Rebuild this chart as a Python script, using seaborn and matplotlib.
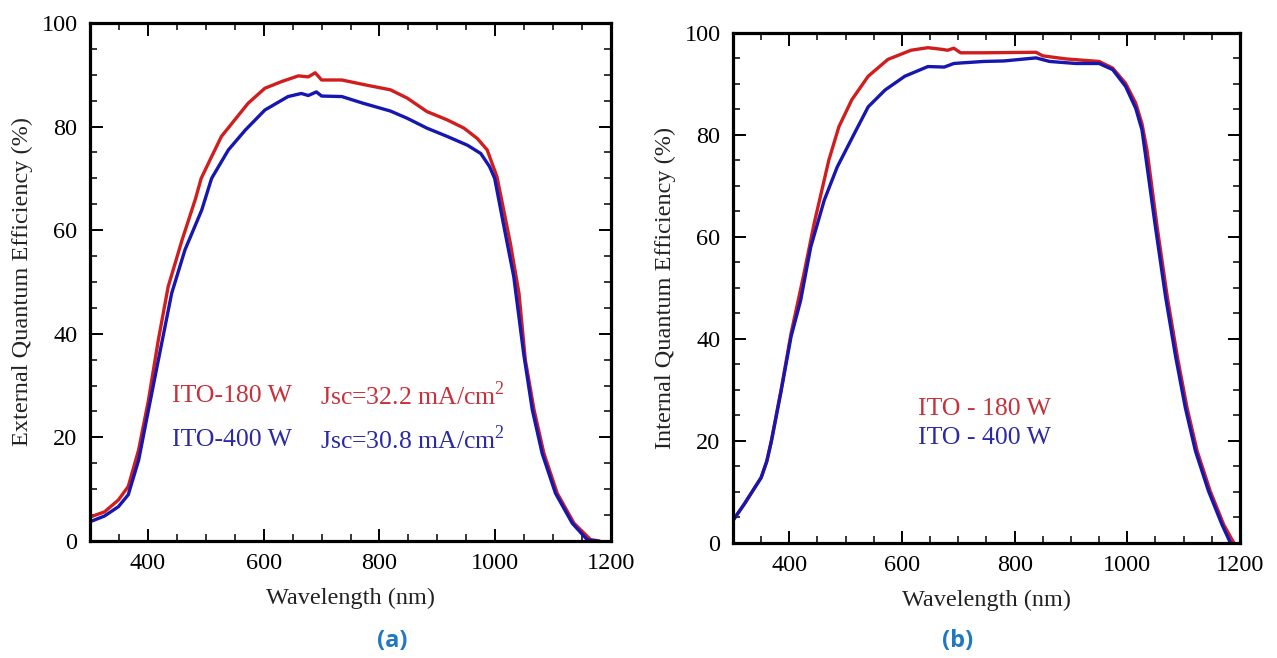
import numpy as np
import pandas as pd
import matplotlib
matplotlib.use("Agg")
import matplotlib.pyplot as plt
import seaborn as sns
from matplotlib.ticker import MultipleLocator

# ---------------- data ----------------
# (a) External quantum efficiency
eqe180_wl = [300, 325, 349, 366, 384, 401, 418, 435, 459, 482, 492, 510, 527, 550, 573, 602, 631, 660, 677, 689, 700, 735, 778, 819, 848, 882, 917, 946, 969, 986, 1003, 1026, 1041, 1052, 1067, 1084, 1107, 1136, 1165, 1180]
eqe180_v  = [4.6, 5.6, 7.9, 10.5, 17.6, 27.2, 38.8, 49.1, 58.1, 66.0, 70.0, 74.2, 78.1, 81.3, 84.5, 87.4, 88.7, 89.8, 89.6, 90.4, 89.0, 89.0, 88.0, 87.1, 85.5, 82.9, 81.3, 79.7, 77.7, 75.5, 70.3, 57.5, 47.8, 34.9, 25.3, 16.9, 9.2, 3.4, 0.2, 0.0]
eqe400_wl = [300, 325, 349, 366, 384, 401, 418, 441, 464, 493, 510, 539, 568, 602, 642, 665, 677, 691, 700, 735, 772, 819, 848, 882, 917, 952, 975, 990, 999, 1015, 1032, 1049, 1064, 1081, 1104, 1133, 1159, 1176]
eqe400_v  = [3.7, 4.8, 6.6, 8.9, 15.6, 25.3, 34.9, 47.8, 56.2, 63.9, 70.0, 75.5, 79.3, 83.2, 85.8, 86.4, 86.0, 86.7, 85.9, 85.8, 84.5, 83.0, 81.6, 79.7, 78.1, 76.4, 74.8, 72.3, 70.0, 60.7, 51.0, 36.2, 25.3, 16.9, 9.2, 3.4, 0.2, 0.0]

# (b) Internal quantum efficiency
iqe180_wl = [300, 320, 335, 350, 360, 368, 385, 403, 426, 444, 470, 488, 511, 540, 575, 616, 646, 669, 681, 692, 704, 745, 838, 850, 891, 950, 974, 997, 1015, 1026, 1035, 1053, 1071, 1089, 1106, 1124, 1147, 1171, 1189]
iqe180_v  = [4.4, 7.6, 10.2, 12.8, 16.0, 20.0, 29.8, 41.0, 52.8, 62.6, 75.0, 81.6, 86.9, 91.5, 94.8, 96.6, 97.1, 96.8, 96.6, 97.0, 96.1, 96.1, 96.2, 95.5, 94.9, 94.4, 93.1, 90.1, 86.2, 82.2, 77.0, 61.9, 48.2, 36.4, 26.5, 18.0, 10.2, 3.6, 0.0]
iqe400_wl = [300, 320, 335, 350, 360, 368, 385, 403, 420, 438, 462, 485, 517, 540, 570, 605, 646, 675, 692, 704, 745, 781, 838, 862, 909, 950, 974, 997, 1015, 1026, 1032, 1050, 1068, 1086, 1103, 1121, 1144, 1168, 1183]
iqe400_v  = [4.4, 7.6, 10.2, 12.8, 16.0, 19.8, 29.5, 40.4, 47.5, 58.0, 67.2, 73.7, 80.6, 85.5, 88.8, 91.5, 93.4, 93.3, 94.0, 94.1, 94.4, 94.5, 95.1, 94.4, 94.0, 94.0, 92.8, 89.5, 85.2, 81.0, 76.3, 61.9, 48.2, 36.4, 26.5, 18.0, 10.2, 3.6, 0.0]

x_ticks = [400, 600, 800, 1000, 1200]
y_ticks = [0, 20, 40, 60, 80, 100]

RED = "#d01e1e"
BLUE = "#1616b0"
RED_T = "#c8303a"
BLUE_T = "#2a2aa4"

# ---------------- style ----------------
sns.set_theme(style="white")
plt.rcParams["font.family"] = ["Liberation Serif", "DejaVu Serif"]
plt.rcParams["mathtext.fontset"] = "custom"
plt.rcParams["mathtext.rm"] = "Liberation Serif"

fig = plt.figure(figsize=(12.77, 6.58), dpi=100)
axA = fig.add_axes([0.0705, 0.178, 0.408, 0.787])
axB = fig.add_axes([0.574, 0.175, 0.397, 0.775])


def style_axes(ax, ylabel):
    ax.set_xlim(300, 1200)
    ax.set_ylim(0, 100)
    ax.set_xticks(x_ticks)
    ax.set_yticks(y_ticks)
    ax.xaxis.set_minor_locator(MultipleLocator(50))
    ax.yaxis.set_minor_locator(MultipleLocator(5))
    ax.tick_params(which="both", direction="in", top=True, right=True,
                   bottom=True, left=True, colors="black", labelsize=17.5,
                   pad=9)
    ax.tick_params(which="major", length=9, width=1.4)
    ax.tick_params(which="minor", length=5, width=1.1)
    for s in ax.spines.values():
        s.set_visible(True)
        s.set_color("black")
        s.set_linewidth(2.3)
    ax.set_xlabel("Wavelength (nm)", fontsize=17.5, labelpad=10, color="#222222")
    ax.set_ylabel(ylabel, fontsize=17.5, labelpad=6, color="#222222")
    ax.grid(False)


dfA = pd.concat([
    pd.DataFrame({"wl": eqe180_wl, "v": eqe180_v, "s": "ITO-180 W"}),
    pd.DataFrame({"wl": eqe400_wl, "v": eqe400_v, "s": "ITO-400 W"}),
])
dfB = pd.concat([
    pd.DataFrame({"wl": iqe180_wl, "v": iqe180_v, "s": "ITO - 180 W"}),
    pd.DataFrame({"wl": iqe400_wl, "v": iqe400_v, "s": "ITO - 400 W"}),
])

sns.lineplot(data=dfA, x="wl", y="v", hue="s", palette=[RED, BLUE],
             linewidth=2.4, sort=False, estimator=None, legend=False, ax=axA)
sns.lineplot(data=dfB, x="wl", y="v", hue="s", palette=[RED, BLUE],
             linewidth=2.4, sort=False, estimator=None, legend=False, ax=axB)

style_axes(axA, "External Quantum Efficiency (%)")
style_axes(axB, "Internal Quantum Efficiency (%)")

# annotations panel (a)
axA.text(442, 28, "ITO-180 W", color=RED_T, fontsize=18.5, va="center", ha="left")
axA.text(698, 28, r"Jsc=32.2 mA/cm$^{2}$", color=RED_T, fontsize=18.5, va="center", ha="left")
axA.text(442, 19.5, "ITO-400 W", color=BLUE_T, fontsize=18.5, va="center", ha="left")
axA.text(698, 19.5, r"Jsc=30.8 mA/cm$^{2}$", color=BLUE_T, fontsize=18.5, va="center", ha="left")

# annotations panel (b)
axB.text(629, 26.3, "ITO - 180 W", color=RED_T, fontsize=18.5, va="center", ha="left")
axB.text(629, 20.6, "ITO - 400 W", color=BLUE_T, fontsize=18.5, va="center", ha="left")

# panel letters
fig.text(392 / 1277, 1 - 641 / 658, "(a)", fontsize=17, fontweight="bold",
         color="#1f78c1", ha="center", va="center", family=["Open Sans", "DejaVu Sans"])
fig.text(958 / 1277, 1 - 641 / 658, "(b)", fontsize=17, fontweight="bold",
         color="#1f78c1", ha="center", va="center", family=["Open Sans", "DejaVu Sans"])

fig.savefig("out.png", dpi=100, facecolor="white")
